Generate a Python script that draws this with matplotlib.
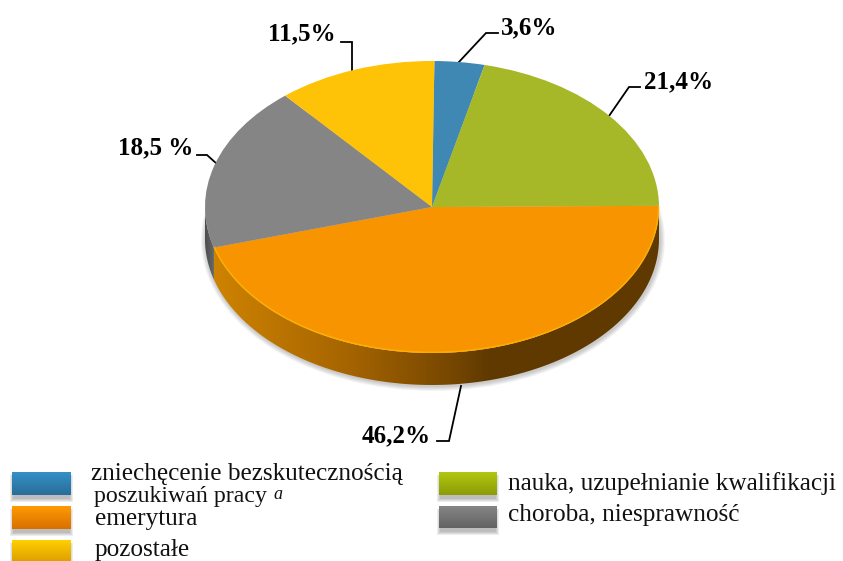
import numpy as np
import matplotlib
matplotlib.use("Agg")
import matplotlib.pyplot as plt
from matplotlib.colors import LinearSegmentedColormap
from matplotlib.patches import Polygon, Rectangle, Ellipse

plt.rcParams["font.family"] = ["Liberation Serif", "DejaVu Serif"]

# dane
slices = ["zniechecenie", "nauka", "emerytura", "choroba", "pozostale"]
values = [3.6, 21.4, 46.2, 18.5, 11.5]
value_labels = ["3,6%", "21,4%", "46,2%", "18,5 %", "11,5%"]
colors = ["#3f88b3", "#a6b727", "#f79400", "#858585", "#fec306"]
legend_texts = ["zniechęcenie bezskutecznością", "nauka, uzupełnianie kwalifikacji",
                "emerytura", "choroba, niesprawność", "pozostałe"]
second_line = "poszukiwań pracy"
swatch_top = ["#3490c6", "#b2c70f", "#ff9a00", "#858585", "#ffd000"]
swatch_bot = ["#2a6d98", "#8c9c08", "#d87000", "#636363", "#e0a000"]

W, H = 843, 561
cx, cy, rx, ry = 432, 207, 227, 146
depth = 32
start = 89.4

fig = plt.figure(figsize=(W / 100, H / 100), dpi=100)

# capa de fondo en pixeles
bg = fig.add_axes([0, 0, 1, 1])


def ell(ang, dy=0):
    t = np.radians(ang)
    return np.column_stack([cx + rx * np.cos(t), cy + dy - ry * np.sin(t)])


# limites de los sectores
cum = np.cumsum([0] + values) / sum(values) * 360
ang_orange = start - cum[3]

# sombra
for k in range(5, 0, -1):
    bg.add_patch(Ellipse((cx + 1, cy + depth + 1), 2 * (rx + k), 2 * (ry + k),
                         color="#000000", alpha=0.045, lw=0, zorder=1))

# lateral
a_o = np.linspace(0, ang_orange, 120)
rim_o = np.vstack([ell(a_o), ell(a_o[::-1], depth)])
a_g = np.linspace(ang_orange, -180, 30)
rim_g = np.vstack([ell(a_g), ell(a_g[::-1], depth)])

cm_o = LinearSegmentedColormap.from_list(
    "o", [(0, "#d08400"), (0.3, "#a86600"), (0.55, "#754600"), (0.62, "#613a00"), (1, "#5f3900")])
cm_g = LinearSegmentedColormap.from_list("g", ["#4c4c4c", "#707070"])
grad = np.linspace(0, 1, 400).reshape(1, -1)

im = bg.imshow(grad, cmap=cm_o, extent=[cx - rx, cx + rx, cy + ry + depth, cy],
               aspect="auto", zorder=2)
im.set_clip_path(Polygon(rim_o, transform=bg.transData))
im2 = bg.imshow(grad, cmap=cm_g, extent=[cx - rx, cx - rx + 12, cy + 90, cy],
                aspect="auto", zorder=2)
im2.set_clip_path(Polygon(rim_g, transform=bg.transData))

# lineas de las etiquetas
leaders = [
    ([458, 486, 498], [63, 33, 33]),
    ([609, 629, 640], [116, 87, 87]),
    ([461, 449, 437], [386, 441, 441]),
    ([217, 207, 197], [164, 155, 155]),
    ([352, 352, 341], [72, 42, 42]),
]
for xs, ys in leaders:
    bg.plot(xs, ys, color="black", lw=1.3, zorder=3, solid_joinstyle="miter")

# etiquetas
label_pos = [(501, 28), (644, 82), (362, 436), (118, 148), (268, 34)]
for txt, (x, y) in zip(value_labels, label_pos):
    bg.text(x, y, txt, fontsize=18, fontweight="bold", color="black",
            ha="left", va="center", zorder=4)

# leyenda
sw = [(12, 472, 59, 23), (439, 472, 58, 23), (12, 506, 59, 23), (439, 506, 58, 22), (12, 540, 59, 21)]
vert = np.linspace(0, 1, 50).reshape(-1, 1)
for (x, y, w, h), c1, c2 in zip(sw, swatch_top, swatch_bot):
    for k in range(4, 0, -1):
        bg.add_patch(Rectangle((x + 2 - k, y + 3), w - 4 + 2 * k, h + k,
                               color="black", alpha=0.07, lw=0, zorder=2))
    cm = LinearSegmentedColormap.from_list("s", [c1, c2])
    bg.imshow(vert, cmap=cm, extent=[x, x + w, y + h, y], aspect="auto", zorder=3)

text_pos = [(91, 474), (508, 484), (95, 519), (508, 515), (95, 550)]
for txt, (x, y) in zip(legend_texts, text_pos):
    bg.text(x, y, txt, fontsize=18.2, color="#111111", ha="left", va="center", zorder=4)
bg.text(94, 496, second_line, fontsize=17.2, color="#111111", ha="left", va="center", zorder=4)
bg.text(273, 494, "a", fontsize=13, style="italic", color="#111111", ha="left", va="center", zorder=4)

bg.set_xlim(0, W)
bg.set_ylim(H, 0)
bg.axis("off")

# pastel, aplastado a elipse
ax = fig.add_axes([(cx - rx) / W, 1 - (cy + ry) / H, 2 * rx / W, 2 * ry / H])
ax.patch.set_alpha(0)
wedges, _ = ax.pie(values, colors=colors, startangle=start, counterclock=False, radius=1,
                   wedgeprops={"linewidth": 0})
ax.set_aspect("auto")
ax.set_xlim(-1, 1)
ax.set_ylim(-1, 1)

# brillo del borde naranja
a_h = np.radians(np.linspace(0, ang_orange, 150))
ax.plot(np.cos(a_h) * 0.998, np.sin(a_h) * 0.995, color="#ffb300", lw=1.1, alpha=0.8, clip_on=False)

fig.savefig("out.png", dpi=100)
